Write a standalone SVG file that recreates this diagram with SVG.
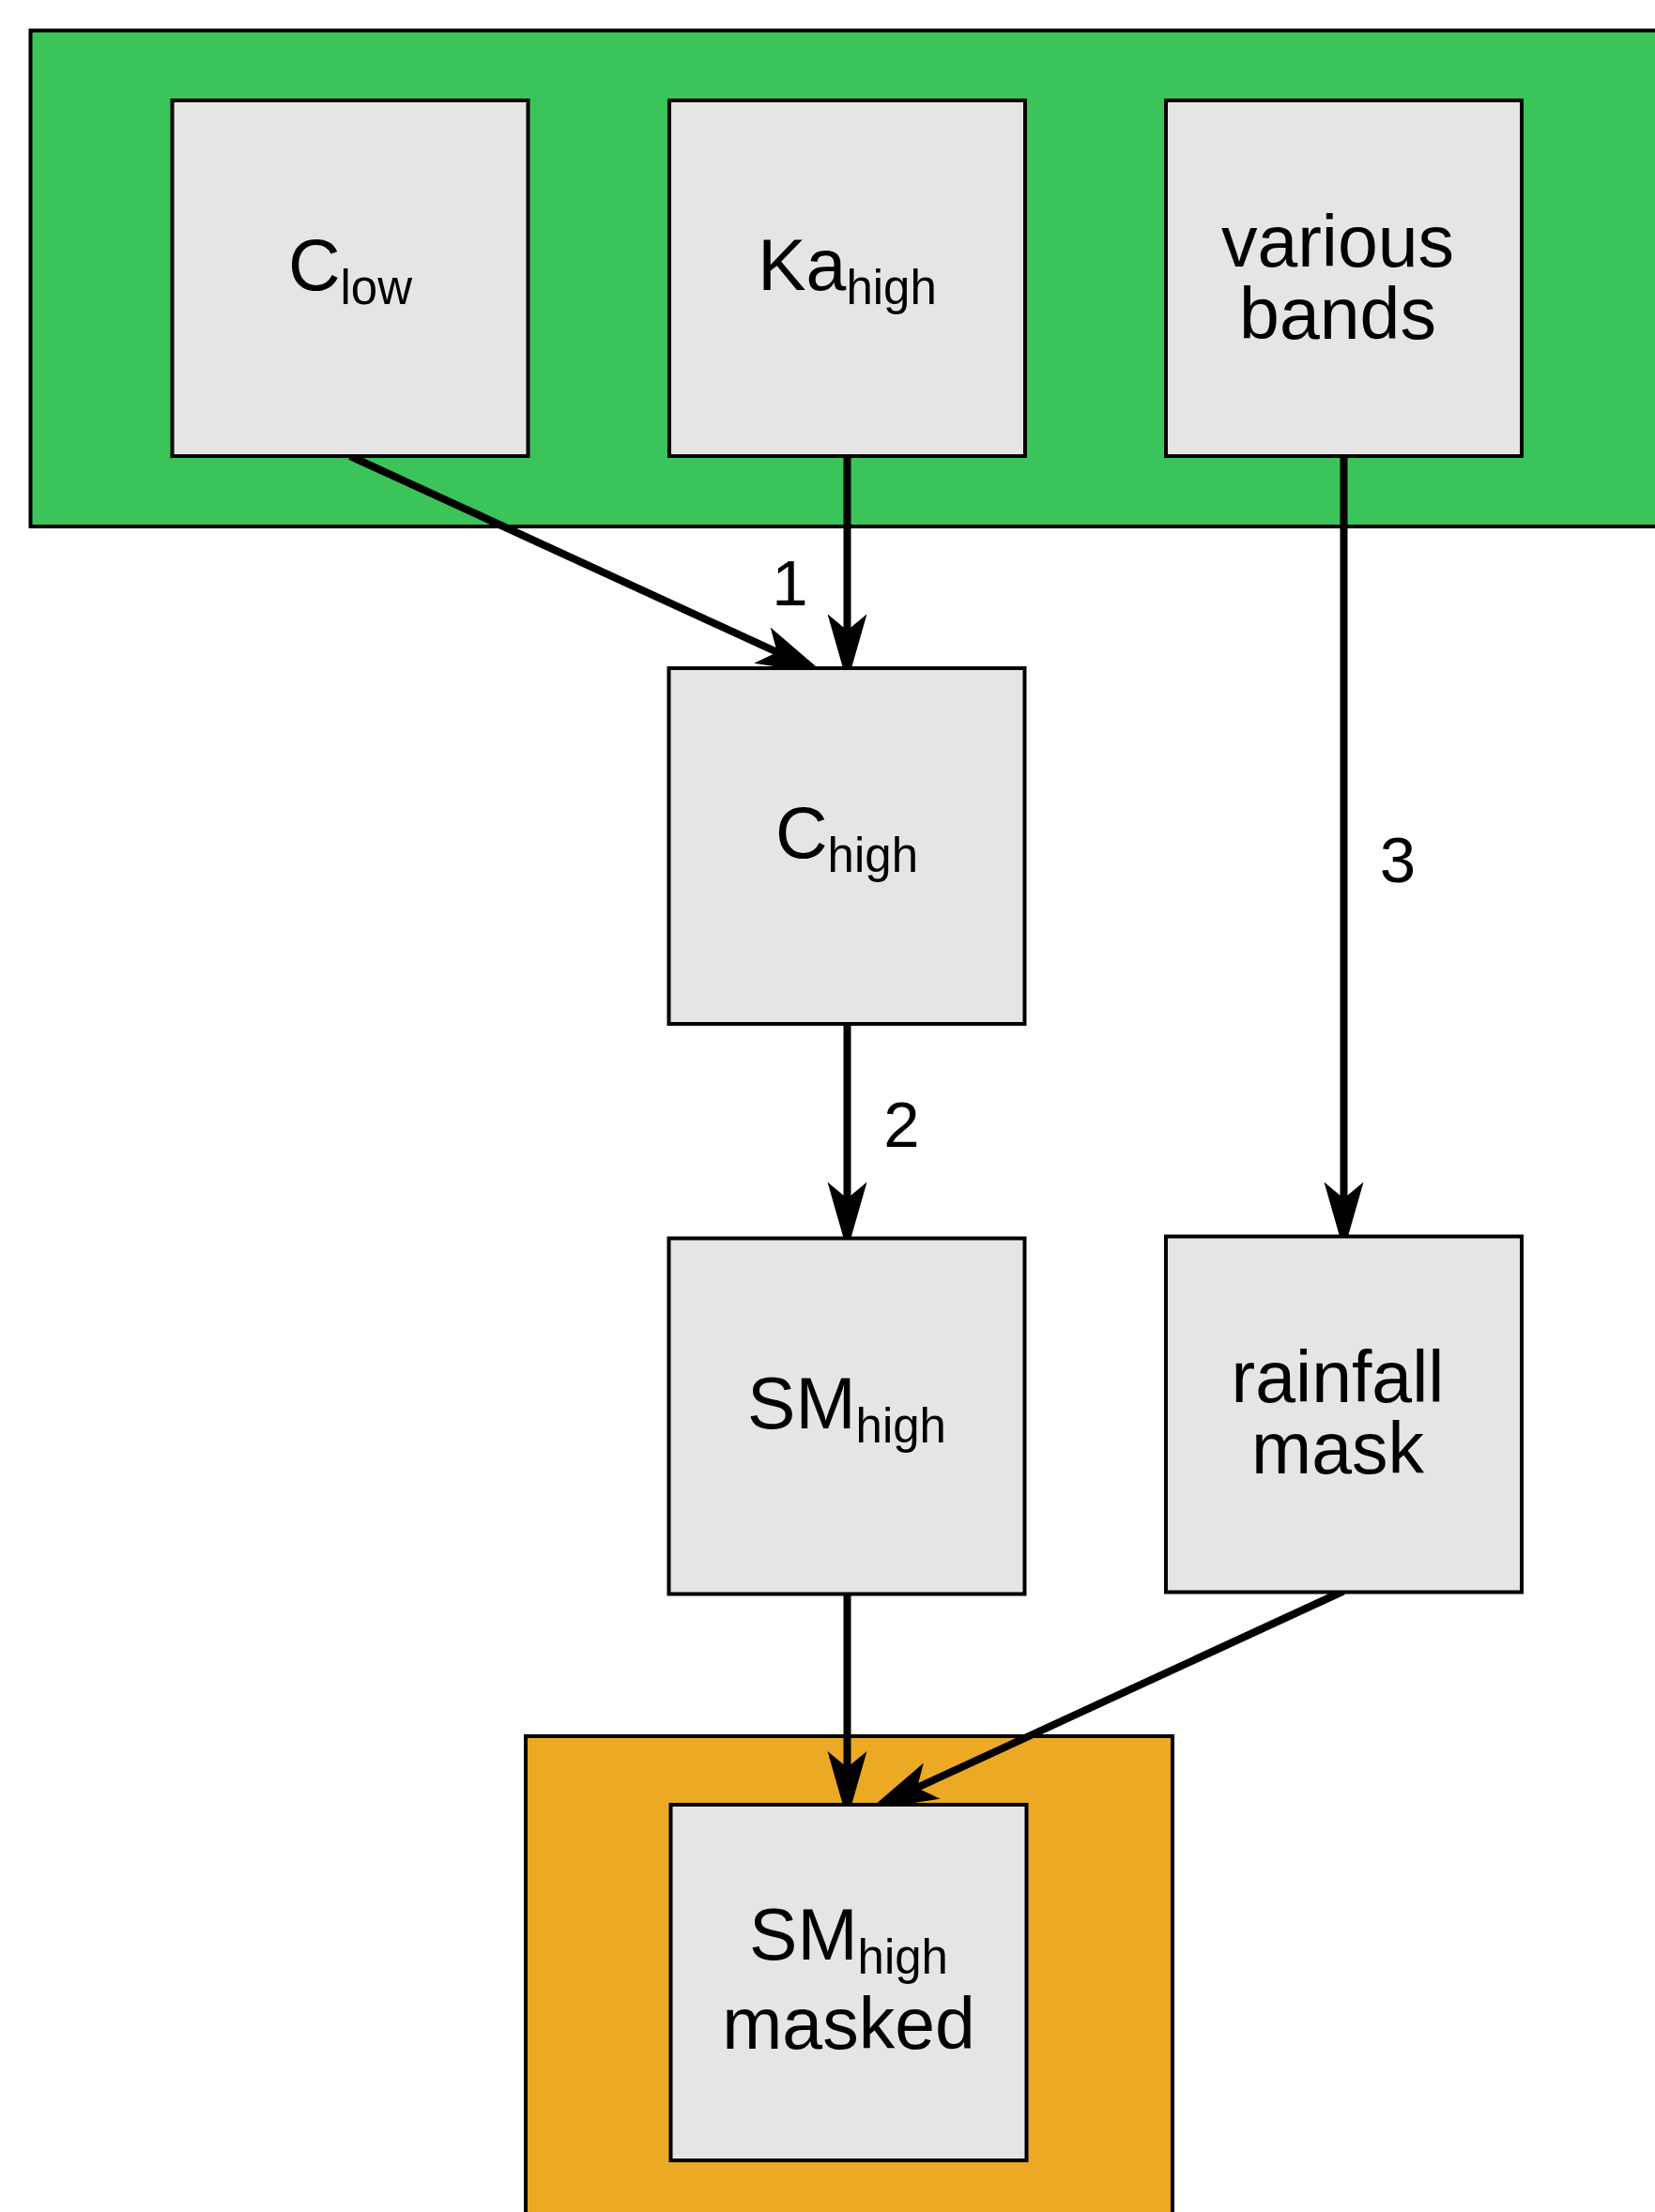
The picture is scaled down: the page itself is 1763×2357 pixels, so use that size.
<svg xmlns="http://www.w3.org/2000/svg" width="1763" height="2357" viewBox="0 0 1763 2357">
<style>
.bg{fill:#ffffff}
.grp-green{fill:#3bc45a;stroke:#000;stroke-width:4}
.grp-orange{fill:#eca923;stroke:#000;stroke-width:4}
.box{fill:#e5e5e5;stroke:#000;stroke-width:4}
.t{font-family:"Liberation Sans",Arial,sans-serif;font-size:77px;fill:#000;text-anchor:middle}
.sub{font-size:51px}
.lbl{font-family:"Liberation Sans",Arial,sans-serif;font-size:69px;fill:#000;text-anchor:middle}
.edge{fill:none;stroke:#000;stroke-width:8}
</style>
<defs>
<marker id="arr" markerUnits="userSpaceOnUse" orient="auto" refX="0" refY="0" markerWidth="10" markerHeight="10" overflow="visible">
<path d="M56,0 L-17.4,-21 L0,0 L-17.4,21 Z" fill="#000" stroke="none"/>
</marker>
</defs>
<rect class="bg" x="0" y="0" width="1763" height="2357"/>
<g id="group-inputs">
<rect class="grp-green" x="32.5" y="32.5" width="1800" height="528.5"/>
</g>
<g id="group-output">
<rect class="grp-orange" x="560" y="1850" width="689" height="600"/>
</g>
<g id="connectors">
<path class="edge" d="M373,486 L827.8,694.9" marker-end="url(#arr)"/>
<path class="edge" d="M902.5,486 L902.5,671.7" marker-end="url(#arr)"/>
<path class="edge" d="M902.5,1091 L902.5,1277" marker-end="url(#arr)"/>
<path class="edge" d="M1431.5,486 L1431.5,1277" marker-end="url(#arr)"/>
<path class="edge" d="M902.5,1698 L902.5,1883.3" marker-end="url(#arr)"/>
<path class="edge" d="M1431,1695.5 L976.9,1904.9" marker-end="url(#arr)"/>
<text class="lbl" x="841.5" y="645">1</text>
<text class="lbl" x="960.5" y="1221.5">2</text>
<text class="lbl" x="1489" y="940">3</text>
</g>
<g id="node-c-low">
<rect class="box" x="183.5" y="107" width="379" height="379"/>
<text class="t" x="373" y="309.3">C<tspan class="sub" dy="15">low</tspan></text>
</g>
<g id="node-ka-high">
<rect class="box" x="713" y="107" width="379" height="379"/>
<text class="t" x="902.5" y="309.3">Ka<tspan class="sub" dy="15">high</tspan></text>
</g>
<g id="node-various-bands">
<rect class="box" x="1242" y="107" width="379" height="379"/>
<text class="t" x="1425" y="284">various</text>
<text class="t" x="1425" y="360.5">bands</text>
</g>
<g id="node-c-high">
<rect class="box" x="712.5" y="712" width="379" height="379"/>
<text class="t" x="902" y="914.3">C<tspan class="sub" dy="15">high</tspan></text>
</g>
<g id="node-sm-high">
<rect class="box" x="712.5" y="1319.5" width="379" height="379"/>
<text class="t" x="902" y="1521.5">SM<tspan class="sub" dy="15">high</tspan></text>
</g>
<g id="node-rainfall-mask">
<rect class="box" x="1242" y="1317.5" width="379" height="379"/>
<text class="t" x="1425" y="1494">rainfall</text>
<text class="t" x="1425" y="1570">mask</text>
</g>
<g id="node-sm-high-masked">
<rect class="box" x="714.5" y="1923" width="379" height="379"/>
<text class="t" x="904" y="2087.5">SM<tspan class="sub" dy="15">high</tspan></text>
<text class="t" x="904" y="2182.5">masked</text>
</g>
</svg>
